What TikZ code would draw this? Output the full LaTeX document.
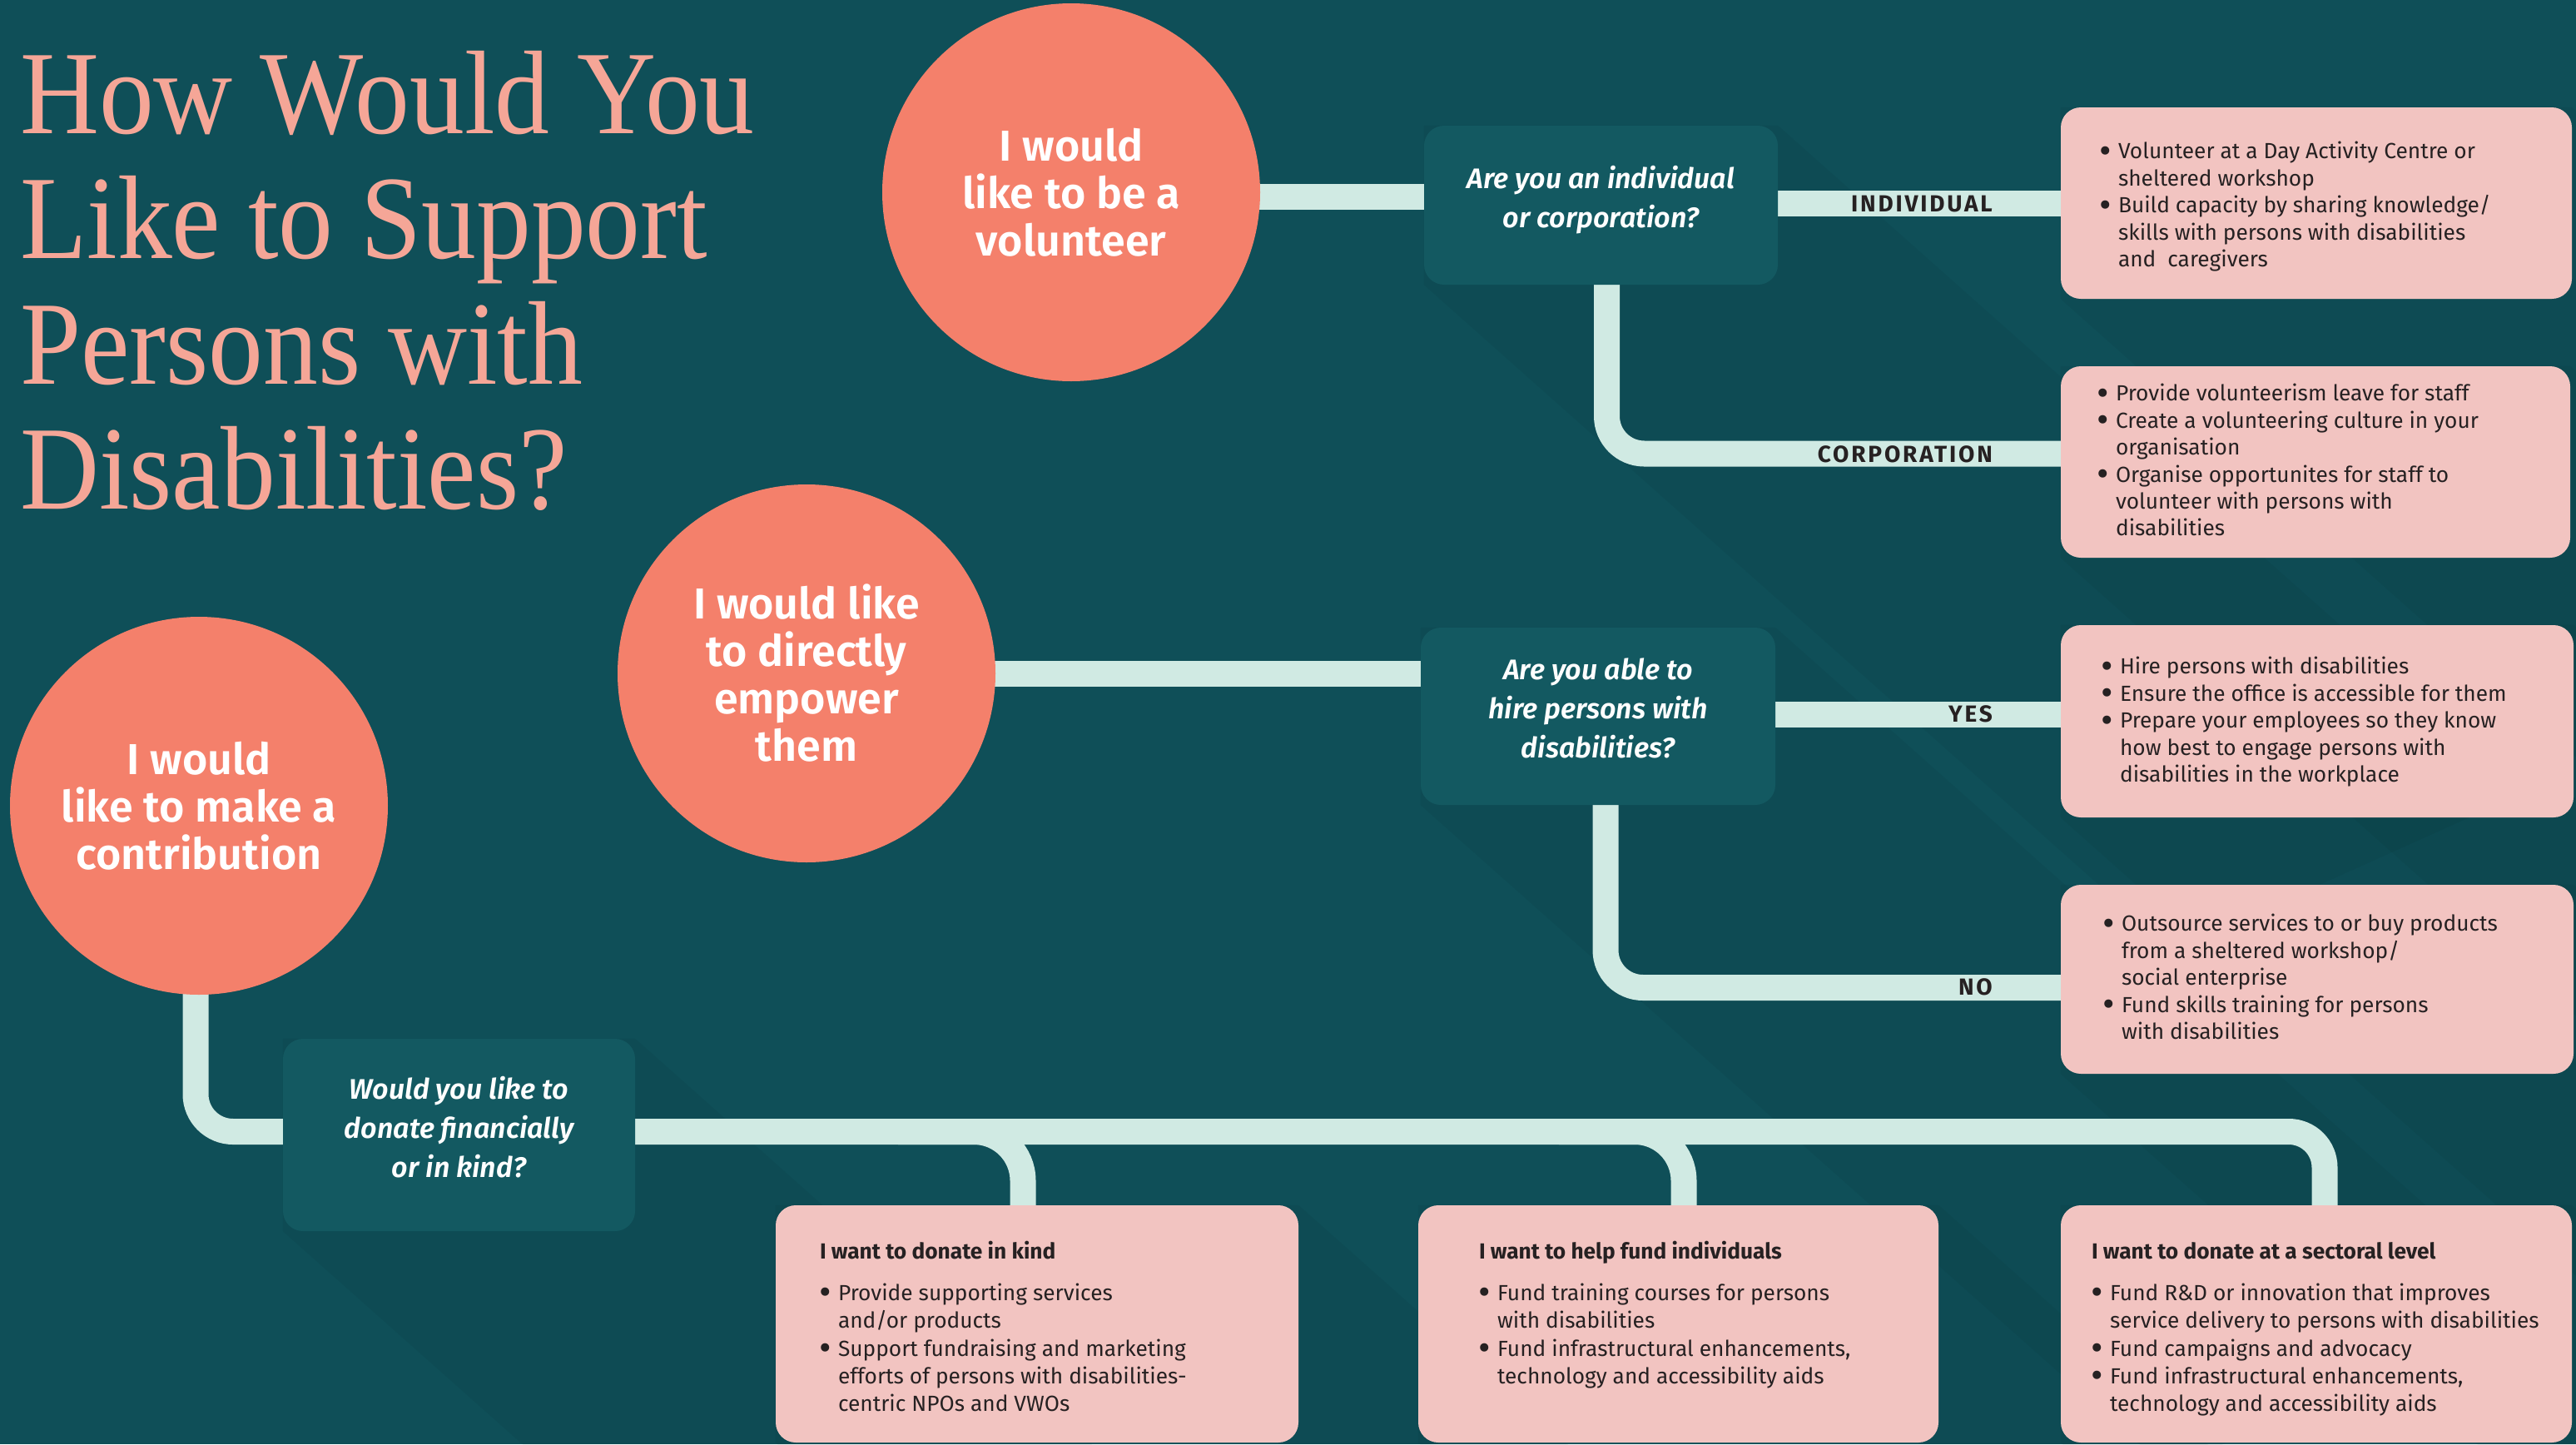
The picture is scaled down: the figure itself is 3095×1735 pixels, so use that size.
\documentclass[tikz,border=0pt]{standalone}
\usepackage{fontspec}
\setmainfont{Fira Sans}
\newfontfamily\titlefont[FakeStretch=0.92]{Liberation Serif}
\newfontfamily\semifont[UprightFont={* SemiBold},ItalicFont={* SemiBold Italic}]{Fira Sans}
\newfontfamily\labelfont[LetterSpace=10]{Fira Sans}
\usetikzlibrary{calc}
\pgfdeclarelayer{bglayer}
\pgfdeclarelayer{connlayer}
\pgfsetlayers{bglayer,connlayer,main}
\definecolor{bgteal}{RGB}{15,79,88}
\definecolor{qteal}{RGB}{19,89,97}
\definecolor{coral}{RGB}{244,128,107}
\definecolor{pinkbox}{RGB}{242,196,193}
\definecolor{mint}{RGB}{208,234,227}
\definecolor{titlec}{RGB}{245,166,151}
\definecolor{darktext}{RGB}{38,33,34}
\newcommand\bulpt{\makebox[22pt][l]{\raisebox{-2.5pt}{\fontsize{36}{36}\selectfont\textbf{•}}}}
\newcommand\indpt{\hspace*{22pt}}
\newcommand\lowpad{\rule[-20pt]{0pt}{0pt}}
\begin{document}
\begin{tikzpicture}[x=1pt,y=-1pt,
  circ/.style={circle, fill=coral, minimum size=454pt, inner sep=0pt, text=white, align=center, font=\semifont\fontsize{52}{57}\selectfont},
  qbox/.style={rectangle, rounded corners=24pt, fill=qteal, text=white, align=center, inner sep=0pt, font=\semifont\itshape\fontsize{34}{47}\selectfont},
  pbox/.style={rectangle, rounded corners=24pt, fill=pinkbox, inner sep=0pt},
  band/.style={draw=mint, line width=31pt},
  lbl/.style={font=\labelfont\bfseries\fontsize{28}{30}\selectfont, text=darktext, inner sep=0pt, anchor=base east},
  body/.style={font=\fontsize{26.3}{32.4}\selectfont, text=darktext, inner sep=0pt, anchor=base west},
  bodyb/.style={font=\fontsize{26.3}{33.4}\selectfont, text=darktext, inner sep=0pt, anchor=base west},
  shadowc/.style={fill=black, opacity=0.04}
]
\useasboundingbox (0,0) rectangle (3095,1735);

% title
\node[anchor=base west, inner sep=0pt, text=titlec, font=\titlefont\fontsize{143}{150.5}\selectfont] (title) at (24,160)
 {\begin{tabular}[t]{@{}l@{}}How Would You\\Like to Support\\Persons with\\Disabilities?\end{tabular}};

% circles
\node[circ] (c1) at (1287,231) {I would\\like to be a\\volunteer};
\node[circ] (c2) at (969,809) {I would like\\to directly\\empower\\them};
\node[circ] (c3) at (239,968) {I would\\like to make a\\contribution};

% question boxes
\node[qbox, minimum width=425pt, minimum height=191pt] (q1) at (1923.5,246.5) {Are you an individual\\or corporation?\lowpad};
\node[qbox, minimum width=426pt, minimum height=213pt] (q2) at (1920,860.5) {Are you able to\\hire persons with\\disabilities?\lowpad};
\node[qbox, minimum width=423pt, minimum height=231pt] (q3) at (551.5,1363.5) {Would you like to\\donate financially\\or in kind?\lowpad};

% pink boxes
\node[pbox, minimum width=614pt, minimum height=230pt] (p1) at (2783,244) {};
\node[pbox, minimum width=612pt, minimum height=230pt] (p2) at (2782,555) {};
\node[pbox, minimum width=616pt, minimum height=231pt] (p3) at (2784,866.5) {};
\node[pbox, minimum width=616pt, minimum height=227pt] (p4) at (2784,1176.5) {};
\node[pbox, minimum width=628pt, minimum height=285pt] (p5) at (1246,1590.5) {};
\node[pbox, minimum width=625pt, minimum height=285pt] (p6) at (2016.5,1590.5) {};
\node[pbox, minimum width=614pt, minimum height=285pt] (p7) at (2783,1590.5) {};

% box texts
\node[body] (t1) at ($(p1.north west)+(47,62)$) {\begin{tabular}[t]{@{}l@{}}
\bulpt Volunteer at a Day Activity Centre or\\
\indpt sheltered workshop\\
\bulpt Build capacity by sharing knowledge/\\
\indpt skills with persons with disabilities\\
\indpt and\ \ caregivers\end{tabular}};
\node[body] (t2) at ($(p2.north west)+(44,42)$) {\begin{tabular}[t]{@{}l@{}}
\bulpt Provide volunteerism leave for staff\\
\bulpt Create a volunteering culture in your\\
\indpt organisation\\
\bulpt Organise opportunites for staff to\\
\indpt volunteer with persons with\\
\indpt disabilities\end{tabular}};
\node[body] (t3) at ($(p3.north west)+(49,59)$) {\begin{tabular}[t]{@{}l@{}}
\bulpt Hire persons with disabilities\\
\bulpt Ensure the office is accessible for them\\
\bulpt Prepare your employees so they know\\
\indpt how best to engage persons with\\
\indpt disabilities in the workplace\end{tabular}};
\node[body] (t4) at ($(p4.north west)+(51,56)$) {\begin{tabular}[t]{@{}l@{}}
\bulpt Outsource services to or buy products\\
\indpt from a sheltered workshop/\\
\indpt social enterprise\\
\bulpt Fund skills training for persons\\
\indpt with disabilities\end{tabular}};
\node[bodyb] (t5) at ($(p5.north west)+(53,65)$) {\begin{tabular}[t]{@{}l@{}}
\textbf{I want to donate in kind}\\[16pt]
\bulpt Provide supporting services\\
\indpt and/or products\\
\bulpt Support fundraising and marketing\\
\indpt efforts of persons with disabilities-\\
\indpt centric NPOs and VWOs\end{tabular}};
\node[bodyb] (t6) at ($(p6.north west)+(73,65)$) {\begin{tabular}[t]{@{}l@{}}
\textbf{I want to help fund individuals}\\[16pt]
\bulpt Fund training courses for persons\\
\indpt with disabilities\\
\bulpt Fund infrastructural enhancements,\\
\indpt technology and accessibility aids\end{tabular}};
\node[bodyb] (t7) at ($(p7.north west)+(37,65)$) {\begin{tabular}[t]{@{}l@{}}
\textbf{I want to donate at a sectoral level}\\[16pt]
\bulpt Fund R\&D or innovation that improves\\
\indpt service delivery to persons with disabilities\\
\bulpt Fund campaigns and advocacy\\
\bulpt Fund infrastructural enhancements,\\
\indpt technology and accessibility aids\end{tabular}};

% labels
\node[lbl] (lind) at (2394,254) {INDIVIDUAL};
\node[lbl] (lcorp) at (2394,555) {CORPORATION};
\node[lbl] (lyes) at (2394,867) {YES};
\node[lbl] (lno) at (2394,1195) {NO};

% background and shadows
\begin{pgfonlayer}{bglayer}
\fill[bgteal] (0,0) rectangle (3095,1735);
\begin{scope}
\clip (0,0) rectangle (3095,1735);
\foreach \n in {p1,p2,p3,p4,p5,p6,p7,q1,q2,q3}{
  \fill[shadowc] (\n.north west) -- (\n.north east) -- ($(\n.north east)+(900,800)$) -- ($(\n.south west)+(900,800)$) -- (\n.south west) -- cycle;
}
\end{scope}
\end{pgfonlayer}

% connectors
\begin{pgfonlayer}{connlayer}
\coordinate (a1) at ([yshift=-5pt]c1.center);
\draw[band] (a1) -- (a1 -| q1.west);
\draw[band] (q1.center |- p1.west) -- (p1.west);
\coordinate (s1) at ([xshift=7pt]q1.center);
\coordinate (k2) at ([yshift=10pt]p2.west);
\draw[band, rounded corners=45pt] (s1) -- (s1 |- k2) -- (k2);
\draw[band] (c2.center) -- (c2.center -| q2.west);
\coordinate (k3) at ([yshift=8pt]p3.west);
\draw[band] (k3 -| q2.center) -- (k3);
\coordinate (s2) at ([xshift=9pt]q2.center);
\coordinate (k4) at ([yshift=-10pt]p4.west);
\draw[band, rounded corners=45pt] (s2) -- (s2 |- k4) -- (k4);
\coordinate (s3) at ([xshift=-4pt]c3.center);
\coordinate (k5) at ([yshift=4pt]q3.west);
\draw[band, rounded corners=45pt] (s3) -- (s3 |- k5) -- (k5);
\coordinate (m0) at ([yshift=4pt]q3.center);
\coordinate (b7) at ([xshift=10pt]p7.north);
\draw[band, rounded corners=43pt] (m0) -- (m0 -| b7) -- ($(b7)+(0,10)$);
\coordinate (b5) at ([xshift=-17pt]p5.north);
\draw[band, rounded corners=59pt] ($(m0 -| b5)+(-150,0)$) -- (m0 -| b5) -- ($(b5)+(0,10)$);
\coordinate (b6) at ([xshift=6.5pt]p6.north);
\draw[band, rounded corners=59pt] ($(m0 -| b6)+(-150,0)$) -- (m0 -| b6) -- ($(b6)+(0,10)$);
\end{pgfonlayer}
\end{tikzpicture}
\end{document}
